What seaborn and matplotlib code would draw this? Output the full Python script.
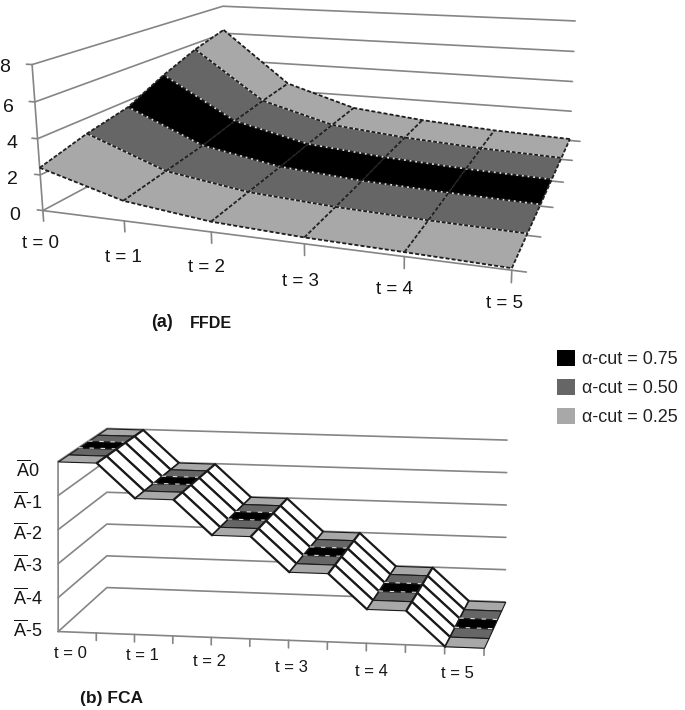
import numpy as np
import matplotlib
matplotlib.use("Agg")
import matplotlib.pyplot as plt
from matplotlib.patches import Patch
from mpl_toolkits.mplot3d.art3d import Poly3DCollection
import seaborn as sns

W, H = 685, 710
sns.set_theme(style="white")
plt.rcParams["font.family"] = ["Liberation Sans", "DejaVu Sans"]
plt.rcParams["mathtext.fontset"] = "custom"
plt.rcParams["mathtext.rm"] = "Liberation Sans"
plt.rcParams["mathtext.default"] = "rm"

# ---------- data ----------
t_labels = ["t = 0", "t = 1", "t = 2", "t = 3", "t = 4", "t = 5"]
t_values = [0, 1, 2, 3, 4, 5]
ffde_s0 = [2.40, 1.10, 0.55, 0.33, 0.22, 0.10]
ffde_s1 = [3.10, 1.35, 0.65, 0.36, 0.20, 0.10]
ffde_s2 = [3.60, 1.60, 0.75, 0.40, 0.22, 0.10]
ffde_s3 = [4.70, 2.00, 0.90, 0.50, 0.25, 0.10]
ffde_s4 = [5.60, 2.30, 1.00, 0.55, 0.27, 0.10]
ffde_s5 = [6.25, 2.55, 1.10, 0.60, 0.28, 0.10]
ffde_ticks = [0, 2, 4, 6, 8]

fca_x = [0, 1, 2, 3, 4, 5, 6, 7, 8, 9, 10, 11]
fca_levels = [0, 0, -1, -1, -2, -2, -3, -3, -4, -4, -5, -5]
fca_ticks = [0, -1, -2, -3, -4, -5]
fca_tick_labels = [r"$\overline{A}$0", r"$\overline{A}$-1", r"$\overline{A}$-2",
                   r"$\overline{A}$-3", r"$\overline{A}$-4", r"$\overline{A}$-5"]

strip_colors = ["#a8a8a8", "#666666", "#000000", "#666666", "#a8a8a8"]
legend_labels = ["α-cut = 0.75", "α-cut = 0.50", "α-cut = 0.25"]
legend_colors = ["#000000", "#666666", "#a8a8a8"]

# ---------- camera calibration (t, series, value) -> picture ----------
cal_a = [(0, 0, 0, 43, 208), (1, 0, 0, 123, 220), (2, 0, 0, 213, 232), (3, 0, 0, 305, 246),
         (4, 0, 0, 403, 258), (5, 0, 0, 512, 270), (5, 5, 0, 570, 138), (0, 5, 0, 226, 115),
         (0, 0, 8, 32, 65), (0, 5, 8, 223, 5), (5, 5, 8, 575, 22)]
cal_b = [(0, 0, 0, 58, 462), (0, 0, -5, 58, 631), (0, 5, 0, 107, 428), (0, 5, -5, 107, 588),
         (11, 5, 0, 507, 440), (11, 5, -5, 505, 602), (11, 0, -5, 484, 648), (10, 0, -5, 445, 646)]


def camera(points):
    A, b = [], []
    for x, y, z, u, v in points:
        A.append([x, y, z, 1, 0, 0, 0, 0, -u * x, -u * y, -u * z]); b.append(u)
        A.append([0, 0, 0, 0, x, y, z, 1, -v * x, -v * y, -v * z]); b.append(v)
    p = np.linalg.lstsq(np.array(A, float), np.array(b, float), rcond=None)[0]
    return np.array([p[:4], p[4:8], [p[8], p[9], p[10], 1.0]])


def axes3d(points):
    ax = fig.add_axes([-(H - W) / 2 / W, 0, H / W, 1], projection="3d", computed_zorder=False)
    ax.set_axis_off()
    ax.patch.set_visible(False)
    ax.apply_aspect()
    inv = ax.transData.inverted()
    (x0, y0), (x1, y1) = inv.transform([(0, 0), (1, 1)])
    P = camera(points)
    sx, sy = x1 - x0, y1 - y0
    row_x = sx * P[0] + x0 * P[2]
    row_y = -sy * P[1] + (sy * H + y0) * P[2]
    # depth stays negative (in front of the camera), tiny extra term keeps M invertible
    row_z = -P[2] + 1e-3 * np.linalg.svd(P)[2][-1]
    M = np.array([row_x, row_y, row_z, P[2]])
    ax.get_proj = lambda: M
    return ax


def px_text(x, y, s, **kw):
    kw.setdefault("ha", "center")
    kw.setdefault("va", "center")
    kw.setdefault("color", "#151515")
    fig.text(x / W, 1 - y / H, s, **kw)


fig = plt.figure(figsize=(W / 100, H / 100), dpi=100, facecolor="white")
GRID = dict(color="#858585", lw=1.2, zorder=1)

# ---------- (a) FFDE ----------
ax = axes3d(cal_a)
ffde = np.array([ffde_s0, ffde_s1, ffde_s2, ffde_s3, ffde_s4, ffde_s5])
depths = np.arange(ffde.shape[0])
t = np.array(t_values)
for v in ffde_ticks:
    ax.plot([0, 0, 5], [0, 5, 5], [v, v, v], **GRID)
    ax.plot([-0.07, 0], [0, 0], [v, v], **GRID)
ax.plot([0, 0], [0, 0], [0, 8], **GRID)
ax.plot([0, 5], [0, 0], [0, 0], **GRID)
for i in t:
    ax.plot([i, i], [0, 0], [0, -0.6], **GRID)
for d in depths:
    ax.plot([5, 5.13], [d, d], [0, 0], **GRID)

zo = 2
for i in range(len(t) - 1):
    for d in range(len(depths) - 1):
        quad = [(t[i], d, ffde[d, i]), (t[i + 1], d, ffde[d, i + 1]),
                (t[i + 1], d + 1, ffde[d + 1, i + 1]), (t[i], d + 1, ffde[d + 1, i])]
        ax.add_collection3d(Poly3DCollection([quad], facecolors=strip_colors[d], edgecolors="none",
                                             linewidths=0, zorder=zo), autolim=False)
for d in depths:
    outer = d in (0, len(depths) - 1)
    ax.plot(t, np.full(len(t), d), ffde[d], color="#1c1c1c", lw=1.3 if outer else 1.2,
            ls=(0, (2.2, 1.2)), gapcolor=None if outer else "#d8d8d8", zorder=zo + 1)
for i in t:
    ax.plot(np.full(len(depths), i), depths, ffde[:, i], color="#222222",
            lw=1.3, ls=(0, (2.2, 1.0)), zorder=zo + 2)

for s, x, y in zip(t_labels, [40, 123, 206, 300, 394, 505], [243, 258, 268, 282, 290, 303]):
    px_text(x, y, s, fontsize=13.5)
for s, x, y in zip(ffde_ticks, [15, 12, 12, 8, 5], [215, 180, 144, 108, 68]):
    px_text(x, y, str(s), fontsize=14)
px_text(162, 322, "(a)", fontsize=13, fontweight="bold")
px_text(211, 323, "FFDE", fontsize=11.5, fontweight="bold")

# ---------- (b) FCA ----------
ax = axes3d(cal_b)
x = np.array(fca_x)
lev = np.array(fca_levels)
for v in fca_ticks:
    ax.plot([0, 0, 11], [0, 5, 5], [v, v, v], **GRID)
ax.plot([0, 0], [0, 0], [0, -5], **GRID)
ax.plot([0, 11], [0, 0], [-5, -5], **GRID)
for i in x[1:]:
    ax.plot([i, i], [0, 0], [-5, -5.22], **GRID)

zo = 2
for i in range(len(x) - 1):
    flat = lev[i] == lev[i + 1]
    for d in range(4, -1, -1):
        quad = [(x[i], d, lev[i]), (x[i + 1], d, lev[i + 1]),
                (x[i + 1], d + 1, lev[i + 1]), (x[i], d + 1, lev[i])]
        ax.add_collection3d(Poly3DCollection([quad], facecolors=strip_colors[d] if flat else "white",
                                             edgecolors="#1a1a1a", linewidths=0.8 if flat else 1.6,
                                             zorder=zo), autolim=False)
        zo += 1
    if flat:
        for d in (2, 3):
            ax.plot([x[i], x[i + 1]], [d, d], [lev[i], lev[i]], color="#dcdcdc", lw=0.8,
                    ls=(0, (4, 6)), zorder=zo)
            zo += 1

for s, px, py in zip(t_labels, [70, 142, 209, 291, 371, 457], [653, 655, 662, 668, 672, 673]):
    px_text(px, py, s, fontsize=12)
for s, py in zip(fca_tick_labels, [470, 502, 533, 565, 598, 630]):
    px_text(28, py, s, fontsize=13)
px_text(111, 699, "(b) FCA", fontsize=12.5, fontweight="bold")

# ---------- legend ----------
handles = [Patch(facecolor=c, edgecolor="none") for c in legend_colors]
fig.legend(handles, legend_labels, loc="upper left", bbox_to_anchor=(557 / W, 1 - 350 / H),
           frameon=False, fontsize=13, handlelength=1.0, handleheight=1.0, handletextpad=0.4,
           labelspacing=0.6, borderpad=0, borderaxespad=0, labelcolor="#222222")

fig.savefig("out.png", dpi=100)
